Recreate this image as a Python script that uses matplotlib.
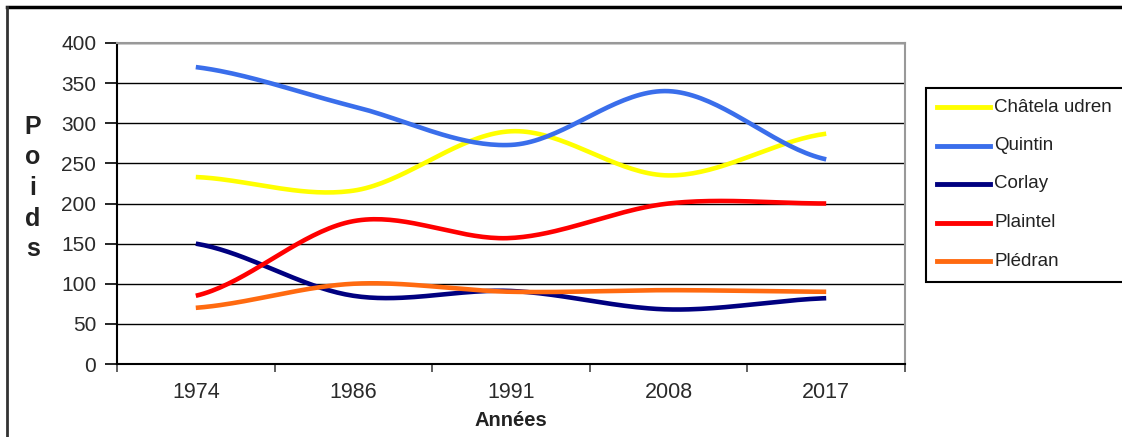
import numpy as np
import matplotlib
matplotlib.use('Agg')
import matplotlib.pyplot as plt
from matplotlib.lines import Line2D
from matplotlib.patches import Rectangle

plt.rcParams['font.family'] = ['Liberation Sans', 'DejaVu Sans']

# données
annees = ['1974', '1986', '1991', '2008', '2017']
chatelaudren = [233, 216, 290, 235, 287]
quintin = [370, 321, 273, 340, 255]
corlay = [150, 85, 91, 68, 82]
plaintel = [85, 178, 157, 200, 200]
pledran = [70, 100, 90, 92, 90]

noms = ['Châtela udren', 'Quintin', 'Corlay', 'Plaintel', 'Plédran']
series = [chatelaudren, quintin, corlay, plaintel, pledran]
couleurs = ['#FFFF00', '#3A6EEB', '#000080', '#FF0000', '#FF6A10']


def lisse(y, n=40):
    """ courbe lissee (catmull-rom) comme dans excel """
    y = np.asarray(y, dtype=float)
    pts = np.concatenate([[y[0]], y, [y[-1]]])
    xs, ys = [], []
    for i in range(len(y) - 1):
        p0, p1, p2, p3 = pts[i], pts[i + 1], pts[i + 2], pts[i + 3]
        m1 = (p2 - p0) / 2
        m2 = (p3 - p1) / 2
        t = np.linspace(0, 1, n)
        h00 = 2 * t**3 - 3 * t**2 + 1
        h10 = t**3 - 2 * t**2 + t
        h01 = -2 * t**3 + 3 * t**2
        h11 = t**3 - t**2
        xs.append(i + t)
        ys.append(h00 * p1 + h10 * m1 + h01 * p2 + h11 * m2)
    return np.concatenate(xs), np.concatenate(ys)


W, H = 1122, 437
fig = plt.figure(figsize=(W / 100, H / 100), dpi=100)
ax = fig.add_axes([117 / W, 1 - 364 / H, (905 - 117) / W, (364 - 43) / H])

x = np.arange(len(annees))
for vals, c in zip(series, couleurs):
    xs, ys = lisse(vals)
    ax.plot(xs, ys, color=c, lw=3.3, solid_capstyle='butt', zorder=3)

ax.set_xlim(-0.5, len(annees) - 0.5)
ax.set_ylim(0, 400)
ax.set_yticks(range(0, 401, 50))
ax.set_xticks(x)
ax.set_xticklabels(annees)
ax.set_xticks(np.arange(len(annees) + 1) - 0.5, minor=True)
ax.yaxis.grid(True, color='black', lw=1.0, zorder=1)
ax.set_axisbelow(True)

ax.tick_params(axis='y', direction='out', length=9, width=1.2, color='black',
               pad=6, labelsize=15, labelcolor='#2a2a2a')
ax.tick_params(axis='x', which='major', length=0, pad=13, labelsize=15.5,
               labelcolor='#2a2a2a')
ax.tick_params(axis='x', which='minor', direction='out', length=6, width=1.2,
               color='#444444')

ax.spines['left'].set_color('black')
ax.spines['left'].set_linewidth(1.5)
ax.spines['bottom'].set_color('black')
ax.spines['bottom'].set_linewidth(1.5)
ax.spines['top'].set_color('#999999')
ax.spines['right'].set_color('#999999')
ax.spines['top'].set_linewidth(1.5)
ax.spines['right'].set_linewidth(1.5)

# titres des axes
fig.text(33 / W, 1 - 188 / H, 'P\no\ni\nd\ns', ha='center', va='center',
         fontsize=18, fontweight='bold', color='#222222', linespacing=1.35)
fig.text(511 / W, 1 - 421 / H, 'Années', ha='center', va='center',
         fontsize=14.5, fontweight='bold', color='#222222')

# legende
fig.add_artist(Rectangle((926 / W, 1 - 282 / H), 210 / W, 194 / H,
                         transform=fig.transFigure, facecolor='white',
                         edgecolor='black', lw=1.5))
for i, (nom, c) in enumerate(zip(noms, couleurs)):
    yy = 1 - (107 + i * 38.5) / H
    fig.add_artist(Line2D([937 / W, 990 / W], [yy, yy], transform=fig.transFigure,
                          color=c, lw=3.5))
    fig.text(994 / W, yy, nom, ha='left', va='center', fontsize=13.5,
             color='#222222')

# cadre
fig.add_artist(Line2D([7 / W, 1], [1 - 7 / H, 1 - 7 / H], transform=fig.transFigure,
                      color='black', lw=2.5))
fig.add_artist(Line2D([7 / W, 7 / W], [0, 1 - 7 / H], transform=fig.transFigure,
                      color='#333333', lw=2.0))

fig.savefig('out.png', dpi=100)
